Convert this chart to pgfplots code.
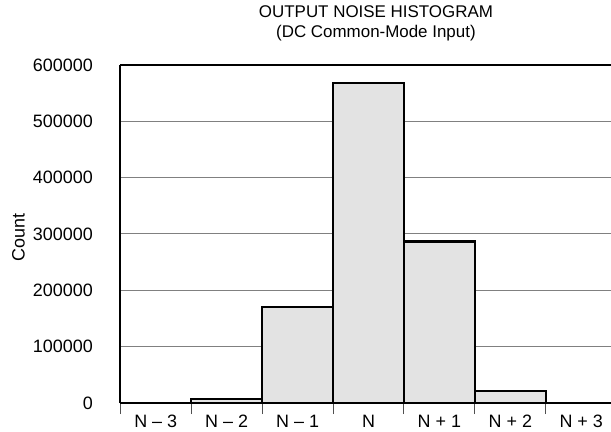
\documentclass[border=0pt]{standalone}
\usepackage{pgfplots}
\pgfplotsset{compat=1.18}
\usepackage{fontspec}
\setmainfont{Liberation Sans}
\definecolor{barfill}{HTML}{E3E3E3}
\definecolor{gridgray}{HTML}{808080}
\definecolor{tickgray}{HTML}{505050}
\begin{document}
\begin{tikzpicture}
\begin{axis}[
  scale only axis, width=490.7bp, height=338bp,
  xmin=0, xmax=6.92, ymin=0, ymax=600000,
  separate axis lines,
  axis x line*=box, axis y line*=left,
  axis line style={line width=2pt, black},
  xtick={0,1,2,3,4,5,6}, xticklabels={},
  xtick pos=bottom,
  tick align=outside,
  x tick style={tickgray, line width=1pt},
  major tick length=11bp,
  extra x ticks={0.5,1.5,2.5,3.5,4.5,5.5,6.5},
  extra x tick labels={N – 3,N – 2,N – 1,N,N + 1,N + 2,N + 3},
  extra x tick style={major tick length=0pt, grid=none, tick style={draw=none},
    xticklabel style={anchor=base, inner sep=0pt, yshift=-24.3bp}},
  ytick={0,100000,200000,300000,400000,500000,600000},
  ymajorgrids, grid style={gridgray, line width=1pt},
  y tick style={draw=none},
  scaled y ticks=false,
  yticklabel style={/pgf/number format/1000 sep={}, /pgf/number format/fixed, anchor=east, xshift=-13bp},
  /pgf/number format/assume math mode=true,
  ticklabel style={font=\fontsize{18}{21}\selectfont},
  ylabel={Count},
  ylabel style={font=\fontsize{18}{21}\selectfont, at={(axis description cs:-0.2075,0.49)}, anchor=center},
  title={OUTPUT NOISE HISTOGRAM\\(DC Common-Mode Input)},
  title style={font=\fontsize{17}{20}\selectfont, align=center, inner sep=0pt, at={(axis description cs:0.521,1)}, anchor=south, yshift=18bp},
]
\addplot[ybar interval, fill=barfill, draw=black, line width=2.3bp]
  coordinates {(0,0) (1,7500) (2,170000) (3,568000) (4,286500) (5,21300) (6,0) (7,0)};
\end{axis}
\pgfresetboundingbox
\path (-120.3bp,-29bp) rectangle (490.7bp,403bp);
\end{tikzpicture}
\end{document}
